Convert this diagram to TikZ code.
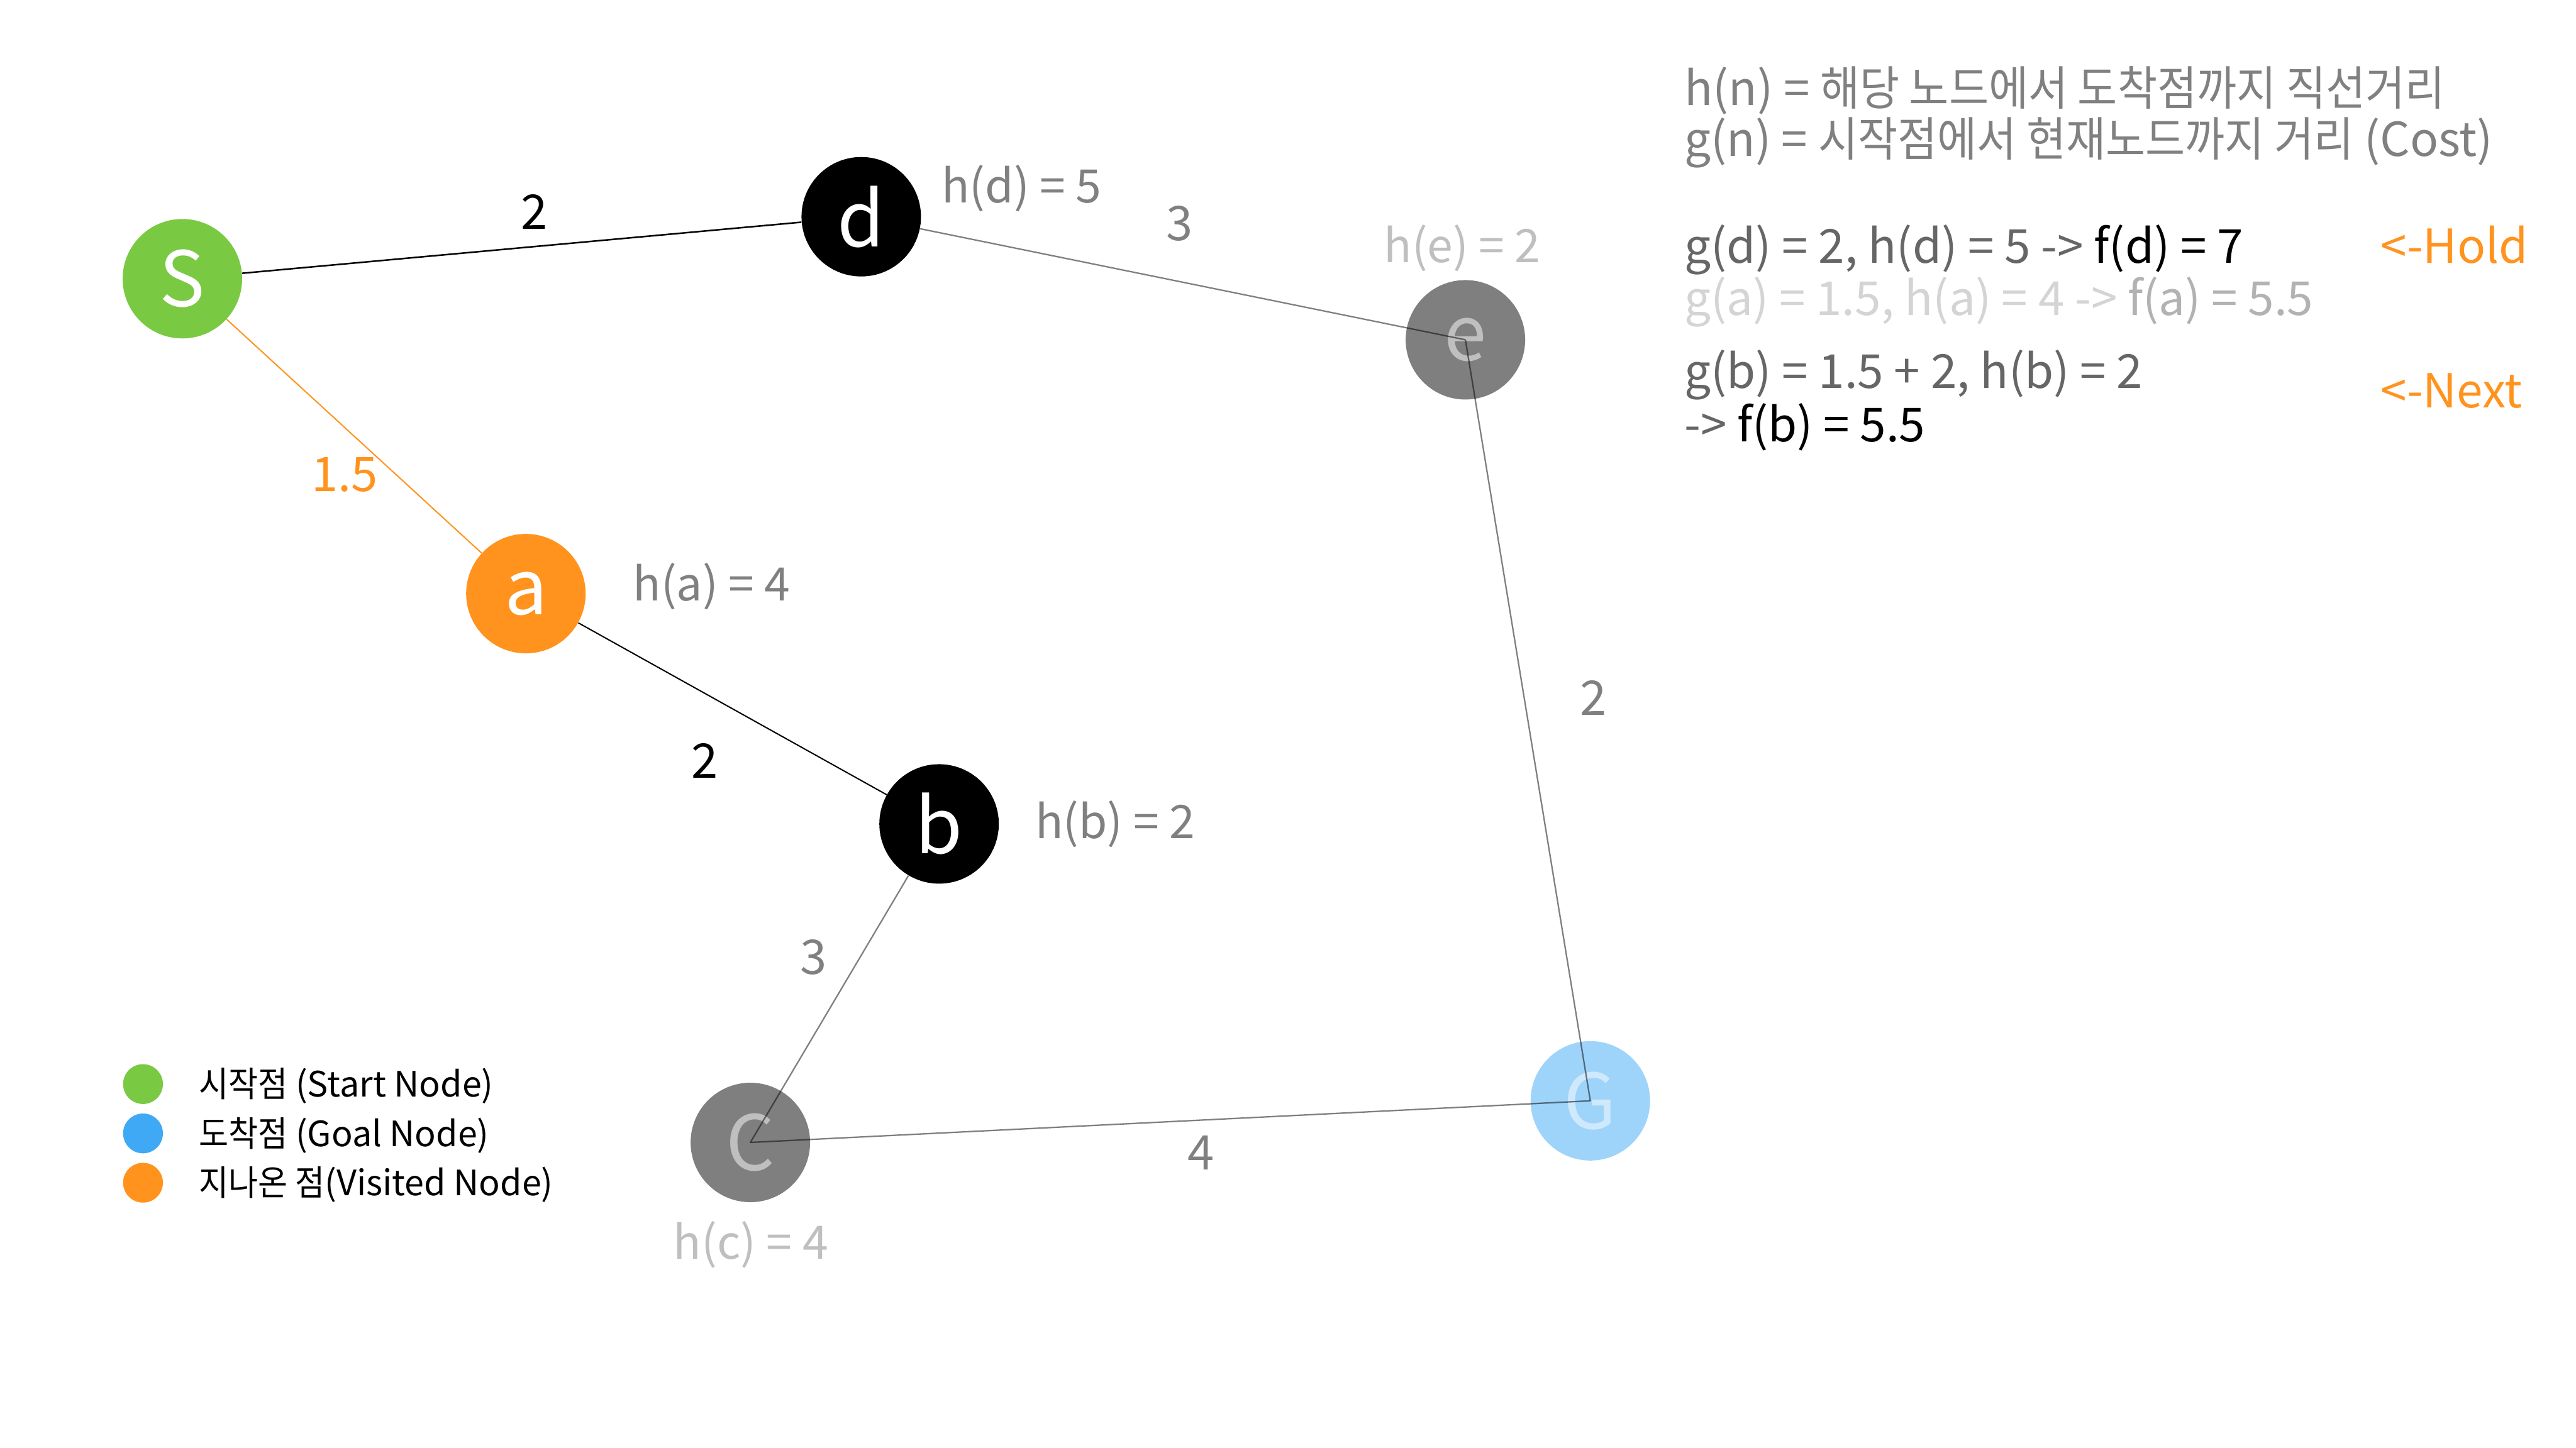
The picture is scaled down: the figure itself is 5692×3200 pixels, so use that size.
\documentclass[tikz,border=0pt]{standalone}
\usepackage{fontspec}
\setmainfont{Noto Sans CJK KR}
\newfontfamily\kr[FakeStretch=0.92]{Noto Sans CJK KR}
\usetikzlibrary{positioning}
\definecolor{StartGreen}{HTML}{7AC943}
\definecolor{GoalBlue}{HTML}{3FA9F5}
\definecolor{VisitOrange}{HTML}{FF931E}
\tikzset{
  vertex/.style={circle, minimum size=26.4mm, inner sep=0pt, text=white,
    font=\fontsize{48}{48}\selectfont},
  startnode/.style={vertex, fill=StartGreen},
  visited/.style={vertex, fill=VisitOrange},
  expanded/.style={vertex, fill=black},
  unseen/.style={vertex, fill=black, opacity=0.5},
  goalnode/.style={vertex, fill=GoalBlue, opacity=0.5},
  heur/.style={inner sep=0pt, text=black!50, font=\fontsize{29}{29}\selectfont},
  faded/.style={heur, text=black!25},
  cost/.style={inner sep=0pt, font=\fontsize{30}{30}\selectfont},
  note/.style={inner sep=0pt, anchor=west, font=\fontsize{29.5}{29.5}\selectfont},
  keydot/.style={circle, minimum size=8.8mm, inner sep=0pt},
  keytext/.style={inner sep=0pt, anchor=west, font=\fontsize{22}{22}\selectfont},
  edge/.style={line width=1pt},
  greyedge/.style={line width=0.9pt, draw=black, opacity=0.5}
}
\begin{document}
\begin{tikzpicture}[x=0.1mm, y=-0.1mm]
  \useasboundingbox (0,0) rectangle (5692,3200);
  % graph
  \node[startnode] (S) at (403,616) {S};
  \node[expanded] (d) at (1903,479) {d};
  \node[unseen] (e) at (3238,751) {e};
  \node[visited] (a) at (1162,1312) {a};
  \node[expanded] (b) at (2075,1821) {b};
  \node[unseen] (c) at (1658,2525) {C};
  \node[goalnode] (G) at (3514,2433) {G};
  \draw[edge] (S) -- (d);
  \draw[edge, draw=VisitOrange, line width=0.8pt] (S) -- (a);
  \draw[edge, line width=0.8pt] (a) -- (b);
  \draw[greyedge] (d) -- (e.center);
  \draw[greyedge] (e.center) -- (G.center);
  \draw[greyedge] (b) -- (c.center);
  \draw[greyedge] (c.center) -- (G.center);
  % heuristics
  \node[heur, anchor=west] (hd) at (2080,417) {h(d) = 5};
  \node[faded] (he) at (3231,548) {h(e) = 2};
  \node[heur, anchor=west] (ha) at (1398,1296) {h(a) = 4};
  \node[heur, anchor=west] (hb) at (2287,1822) {h(b) = 2};
  \node[faded] (hc) at (1659,2751) {h(c) = 4};
  % edge weights
  \node[cost] (wsd) at (1180,468) {2};
  \node[cost, text=black!50] (wde) at (2606,494) {3};
  \node[cost, text=VisitOrange] (wsa) at (762,1049) {1.5};
  \node[cost] (wab) at (1557,1681) {2};
  \node[cost, text=black!50] (weg) at (3521,1543) {2};
  \node[cost, text=black!50] (wbc) at (1797,2116) {3};
  \node[cost, text=black!50] (wcg) at (2654,2548) {4};
  % notes
  \node[note, text=black!50] (hn) at (3721,200) {h(n) = {\kr 해당 노드에서 도착점까지 직선거리}};
  \node[note, text=black!50] (gn) at (3721,316) {g(n) = {\kr 시작점에서 현재노드까지 거리} (Cost)};
  \node[note, text=black!60] (gd) at (3721,552) {g(d) = 2, h(d) = 5 -> \textcolor{black}{f(d) = 7}};
  \node[note, text=black!17] (ga) at (3721,668) {g(a) = 1.5, h(a) = 4 -> \textcolor{black!30}{f(a) = 5.5}};
  \node[note, text=black!60] (gb) at (3721,828) {g(b) = 1.5 + 2, h(b) = 2};
  \node[note, text=black!60] (fb) at (3721,944) {-> \textcolor{black}{f(b) = 5.5}};
  \node[note, text=VisitOrange] (hold) at (5260,541) {<-Hold};
  \node[note, text=VisitOrange] (next) at (5260,864) {<-Next};
  % legend
  \node[keydot, fill=StartGreen] (kstart) at (316,2396) {};
  \node[keydot, fill=GoalBlue] (kgoal) at (316,2505) {};
  \node[keydot, fill=VisitOrange] (kvisit) at (316,2614) {};
  \node[keytext] (tstart) at (439,2400) {{\kr 시작점} (Start Node)};
  \node[keytext] (tgoal) at (439,2509) {{\kr 도착점} (Goal Node)};
  \node[keytext] (tvisit) at (439,2618) {{\kr 지나온 점}(Visited Node)};
\end{tikzpicture}
\end{document}
